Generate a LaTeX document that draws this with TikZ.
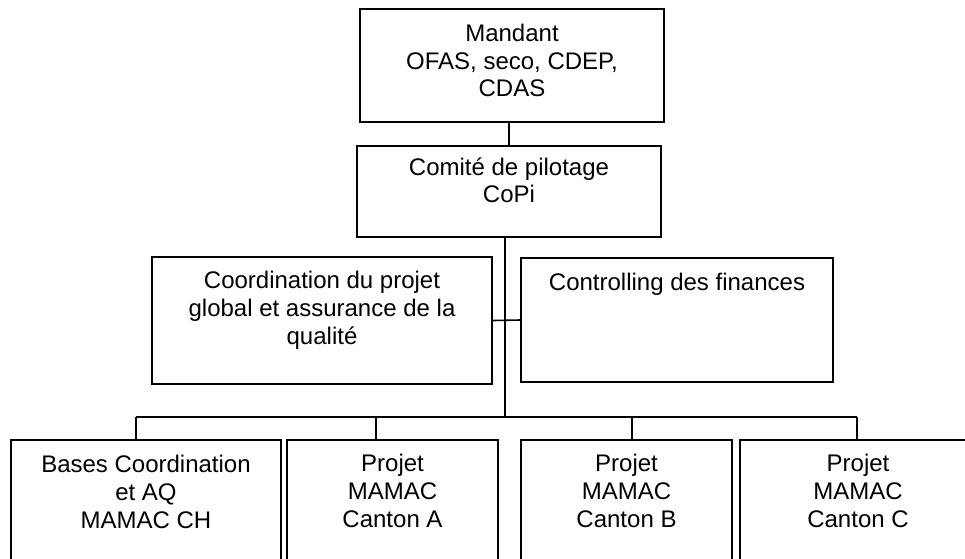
\documentclass[tikz,border=0pt]{standalone}
\usepackage{fontspec}
\setmainfont{Liberation Sans}
\usetikzlibrary{positioning}

\begin{document}
\begin{tikzpicture}
[every node/.style={inner sep=0pt},
 orgbox/.style={rectangle, draw=black, line width=1.6pt},
 orgtext/.style={align=center, font=\fontsize{24pt}{27.6pt}\selectfont},
 link/.style={line width=1.6pt, color=black}]
\useasboundingbox (0pt, 0pt) rectangle (965pt, -558pt);
\clip (0pt, 0pt) rectangle (965pt, -558pt);
% boxes
\node (mandant) [orgbox, minimum width=304pt, minimum height=113pt] at (512.0pt, -65.5pt) {};
\node (copi) [orgbox, minimum width=304pt, minimum height=91pt] at (509.0pt, -191.5pt) {};
\node (qa) [orgbox, minimum width=340pt, minimum height=127pt] at (322.0pt, -320.5pt) {};
\node (fin) [orgbox, minimum width=312pt, minimum height=124pt] at (677.0pt, -320.0pt) {};
\node (basech) [orgbox, minimum width=270pt, minimum height=150pt] at (146.0pt, -515.0pt) {};
\node (cantona) [orgbox, minimum width=211pt, minimum height=150pt] at (392.5pt, -515.0pt) {};
\node (cantonb) [orgbox, minimum width=211pt, minimum height=150pt] at (626.5pt, -515.0pt) {};
\node (cantonc) [orgbox, minimum width=236pt, minimum height=150pt] at (858.0pt, -515.0pt) {};
% texts
\node (mandanttext) [orgtext, below=16pt of mandant.north] {Mandant\\OFAS, seco, CDEP,\\CDAS};
\node (copitext) [orgtext, below=12pt of copi.north] {Comité de pilotage\\CoPi};
\node (qatext) [orgtext, below=15pt of qa.north] {Coordination du projet\\global et assurance de la\\qualité};
\node (fintext) [orgtext, below=16pt of fin.north] {Controlling des finances};
\node (basechtext) [orgtext, below=16pt of basech.north] {Bases Coordination\\et AQ\\MAMAC CH};
\node (cantonatext) [orgtext, below=15pt of cantona.north] {Projet\\MAMAC\\Canton A};
\node (cantonbtext) [orgtext, below=15pt of cantonb.north] {Projet\\MAMAC\\Canton B};
\node (cantonctext) [orgtext, below=15pt of cantonc.north] {Projet\\MAMAC\\Canton C};
% connectors
\coordinate (trunk) at (505.0pt, -417.0pt);
\coordinate (dropbasech) at (136.0pt, -417.0pt);
\coordinate (dropcantona) at (376.0pt, -417.0pt);
\coordinate (dropcantonb) at (632.0pt, -417.0pt);
\coordinate (dropcantonc) at (857.0pt, -417.0pt);
\draw [link] (copi.north) -- (copi.north |- mandant.south);
\draw [link] (trunk |- copi.south) -- (trunk);
\draw [link] (qa.east) -- (fin.west);
\draw [link] (dropbasech) -- (dropcantonc);
\foreach \b in {basech, cantona, cantonb, cantonc}
  \draw [link] (drop\b) -- (drop\b |- \b.north);
\end{tikzpicture}
\end{document}
